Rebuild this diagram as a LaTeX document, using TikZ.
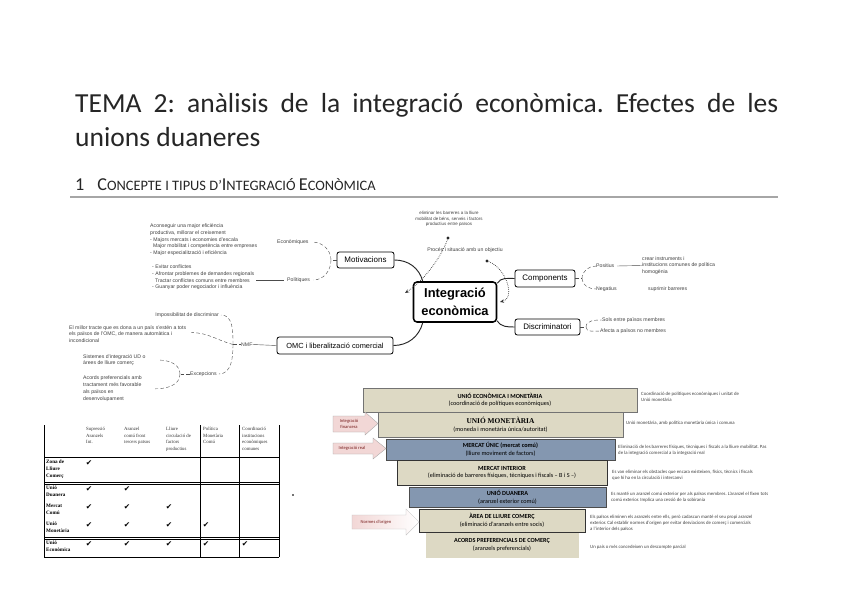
\documentclass[tikz,border=0pt]{standalone}
\usepackage{fontspec}
\setmainfont{Carlito}
\newfontfamily\mapfont{Liberation Sans}
\newfontfamily\tabfont{Liberation Serif}
\newfontfamily\symfont{DejaVu Sans}
\usetikzlibrary{arrows.meta,shadows,positioning,calc}
\frenchspacing
\definecolor{titleGray}{RGB}{38,38,38}
\definecolor{ruleGray}{RGB}{166,166,166}
\definecolor{paleBeige}{RGB}{221,217,196}
\definecolor{steelBlue}{RGB}{132,151,176}
\definecolor{pinkArrow}{RGB}{242,215,214}
\definecolor{darkRed}{RGB}{120,30,30}
\tikzset{
  topicbox/.style={
    rectangle, rounded corners=2pt, draw=black, line width=0.7pt,
    fill=white, inner sep=0pt, font=\mapfont\fontsize{6.8}{8}\selectfont
  },
  tinytext/.style={
    inner sep=0pt, align=left, text=black!75,
    font=\mapfont\fontsize{4.4}{5.8}\selectfont
  },
  tierbox/.style={
    rectangle, draw=black!55, line width=0.4pt, fill=paleBeige,
    inner sep=0pt, align=center, font=\fontsize{5.3}{6.6}\selectfont,
    drop shadow={shadow xshift=0.7pt,shadow yshift=-0.7pt,opacity=0.6}
  },
  sidenote/.style={
    inner sep=0pt, align=left, anchor=west, text=black!75,
    font=\fontsize{4.1}{5.3}\selectfont
  }
}

\begin{document}
\begin{tikzpicture}[x=0.3mm, y=0.3mm,
        mapline/.style={line width=0.8pt, draw=black!85},
        brch/.style={densely dashed, line width=0.35pt, draw=black!70},
        thinline/.style={line width=0.35pt, draw=black!70},
        rel/.style={densely dotted, line width=0.6pt, draw=black!80,
                    -{Stealth[length=3.5pt,width=3pt]}},
        reldot/.style={circle, fill=black!85, inner sep=0pt, minimum size=2.6pt},
        tick/.style={inner sep=0pt, font=\symfont\fontsize{6.5}{7}\selectfont},
        hdr/.style={anchor=north west, inner sep=0pt, align=left,
                    font=\tabfont\fontsize{4.1}{5.6}\selectfont, text=black!80},
        rowlbl/.style={anchor=north west, inner sep=0pt, align=left,
                       font=\tabfont\bfseries\fontsize{4.4}{5.9}\selectfont}]
  \path[use as bounding box, fill=white] (0,0) rectangle (848,-599);

  % heading
  \node[anchor=base west, inner sep=0pt, text width=210.9mm, align=justify,
        font=\fontsize{23.5}{29.3}\selectfont, text=titleGray] (title) at (75,-112.3)
        {\hyphenpenalty=10000 TEMA 2: anàlisis de la integració econòmica. Efectes de les\linebreak unions duaneres};
  \node[anchor=base west, inner sep=0pt, text=black!85,
        font=\fontsize{15.5}{17}\selectfont] (sect) at (75,-191)
        {1\hspace{11pt}C{\fontsize{12.3}{14}\selectfont ONCEPTE I TIPUS D’}I{\fontsize{12.3}{14}\selectfont NTEGRACIÓ }E{\fontsize{12.3}{14}\selectfont CONÒMICA}};
  \draw[ruleGray, line width=1.4pt] (70,-197) -- (778,-197);

  % mind map
  \node[topicbox, line width=1.3pt, rounded corners=3pt, align=center,
        minimum width=24.9mm, minimum height=12mm,
        font=\mapfont\bfseries\fontsize{11}{15}\selectfont] (ie) at (455,-302)
        {Integració\\econòmica};
  \node[topicbox, minimum width=17.1mm, minimum height=4.8mm] (mot) at (365.5,-260) {Motivacions};
  \node[topicbox, minimum width=18mm, minimum height=5.1mm] (comp) at (545,-278.5) {Components};
  \node[topicbox, minimum width=19.5mm, minimum height=4.8mm] (disc) at (547.5,-327) {Discriminatori};
  \node[topicbox, minimum width=34.8mm, minimum height=5.1mm,
        font=\mapfont\fontsize{6.3}{8}\selectfont] (omc) at (335,-345.5)
        {OMC i liberalització comercial};
  \draw[mapline] (mot.east) to[out=0,in=105] ([xshift=3mm]ie.north west);
  \draw[mapline] (omc.east) to[out=0,in=-105] ([xshift=3mm]ie.south west);
  \draw[mapline] ([yshift=-0.6mm]ie.north east) to[out=60,in=180] (comp.west);
  \draw[mapline] ([yshift=0.6mm]ie.south east) to[out=-60,in=180] (disc.west);

  \node[tinytext, align=center, font=\mapfont\fontsize{3.8}{4.4}\selectfont] (goal) at (449,-219)
        {eliminar les barreres a la lliure\\mobilitat de béns, serveis i factors\\productius entre països};
  \node[tinytext] (proc) at (465,-250) {Procés i situació amb un objectiu};
  \node[reldot] (r1s) at (448,-238) {};
  \coordinate (r1e) at (405,-293);
  \draw[rel] (r1s) .. controls (440,-260) and (422,-282) .. (r1e);
  \node[reldot] (r2s) at (487,-261) {};
  \coordinate (r2e) at (500,-302);
  \draw[rel] (r2s) .. controls (506,-268) and (516,-298) .. (r2e);

  % Motivacions
  \node[tinytext, anchor=west] (econ) at (277,-242) {Econòmiques};
  \node[tinytext, anchor=west] (pol) at (287,-280) {Polítiques};
  \coordinate (motj) at (331,-260);
  \draw[brch] (mot.west) -- (motj);
  \draw[brch] (motj) to[out=90,in=0] ([xshift=1mm]econ.east);
  \draw[brch] (motj) to[out=-90,in=0] ([xshift=1mm]pol.east);
  \node[tinytext, anchor=north west] (econtxt) at (150,-223.5)
        {Aconseguir una major eficiència\\productiva, millorar el creixement\\- Majors mercats i economies d’escala\\\ \ Major mobilitat i competència entre empreses\\- Major especialització i eficiència};
  \node[tinytext, anchor=north west] (poltxt) at (152,-264.5)
        {- Evitar conflictes\\- Afrontar problemes de demandes regionals\\\ \ Tractar conflictes comuns entre membres\\- Guanyar poder negociador i influència};
  \draw[thinline] ([xshift=0.6mm]poltxt.east |- pol.west) -- ([xshift=-0.8mm]pol.west);

  % OMC
  \node[tinytext, anchor=west] (nmf) at (241,-344.5) {NMF};
  \draw[thinline] (nmf.east) -- (omc.west);
  \coordinate (nmfj) at (233,-344.5);
  \node[tinytext, anchor=east] (imp) at (219,-315) {Impossibilitat de discriminar};
  \node[tinytext, anchor=north west] (nmftxt) at (69,-325)
        {El millor tracte que es dona a un país s’estén a tots\\els països de l’OMC, de manera automàtica i\\incondicional};
  \node[tinytext, anchor=west] (exc) at (190,-374) {Excepcions};
  \draw[brch] (nmfj) -- (nmf.west);
  \draw[brch] (nmfj) to[out=90,in=0] ([xshift=0.6mm]imp.east);
  \draw[brch] (nmfj) to[out=165,in=0] ([xshift=1.5mm,yshift=0.4mm]nmftxt.east);
  \draw[brch] (nmfj) to[out=-90,in=0] ([xshift=0.6mm]exc.east);
  \coordinate (excj) at (180,-374);
  \node[tinytext, anchor=north west] (sist) at (83,-354)
        {Sistemes d’integració UD o\\àrees de lliure comerç};
  \node[tinytext, anchor=north west] (acord) at (83,-376)
        {Acords preferencials amb\\tractament més favorable\\als països en\\desenvolupament};
  \draw[brch] (exc.west) -- (excj);
  \draw[brch] (excj) to[out=90,in=0] ([xshift=4mm]sist.east);
  \draw[brch] (excj) to[out=-90,in=0] ([xshift=4mm]acord.east);

  % Components / Discriminatori
  \coordinate (compj) at (582,-278.5);
  \node[tinytext, anchor=west] (pos) at (596,-266) {Positius};
  \node[tinytext, anchor=west] (neg) at (596,-289) {Negatius};
  \draw[brch] (comp.east) -- (compj);
  \draw[brch] (compj) to[out=90,in=180] (pos.west);
  \draw[brch] (compj) to[out=-90,in=180] (neg.west);
  \node[tinytext, anchor=west] (postxt) at (642,-265.5)
        {crear instruments i\\institucions comunes de política\\homogènia};
  \draw[thinline] ([xshift=0.8mm]pos.east) -- (postxt.west);
  \node[tinytext, anchor=west] (negtxt) at (648,-289) {suprimir barreres};
  \coordinate (discj) at (586,-327);
  \node[tinytext, anchor=west] (dis1) at (602,-320) {Sols entre països membres};
  \node[tinytext, anchor=west] (dis2) at (600,-331) {Afecta a països no membres};
  \draw[brch] (disc.east) -- (discj);
  \draw[brch] (discj) to[out=90,in=180] (dis1.west);
  \draw[brch] (discj) to[out=-90,in=180] (dis2.west);

  % table
  \draw[line width=0.5pt] (44,-425) -- (44,-557);
  \draw[line width=0.4pt] (200,-425) -- (200,-557);
  \draw[line width=0.4pt] (239,-425) -- (239,-557);
  \draw[line width=0.5pt] (279,-425) -- (279,-557);
  \draw[line width=0.4pt] (44,-457) -- (279,-457);
  \draw[line width=0.4pt] (44,-482) -- (279,-482);
  \draw[line width=0.4pt] (44,-484) -- (279,-484);
  \draw[line width=0.4pt] (44,-537) -- (279,-537);
  \draw[line width=0.4pt] (44,-539) -- (279,-539);
  \draw[line width=0.8pt] (44,-557) -- (279,-557);
  \node[hdr] (h1) at (86,-427) {Supressió\\Aranzels\\Int.};
  \node[hdr] (h2) at (124,-427) {Aranzel\\comú front\\tercers països};
  \node[hdr] (h3) at (166,-427) {Lliure\\circulació de\\factors\\productius};
  \node[hdr] (h4) at (203,-427) {Política\\Monetària\\Comú};
  \node[hdr] (h5) at (242,-427) {Coordinació\\institucions\\econòmiques\\comunes};
  \node[rowlbl] (zlc) at (46,-460) {Zona de\\Lliure\\Comerç};
  \node[rowlbl] (ud) at (46,-486) {Unió\\Duanera};
  \node[rowlbl] (mc) at (46,-504) {Mercat\\Comú};
  \node[rowlbl] (um) at (46,-522) {Unió\\Monetària};
  \node[rowlbl] (ue) at (46,-540.5) {Unió\\Econòmica};
  \node[tick] (t11) at (89,-463) {✔};
  \node[tick] (t21) at (89,-489) {✔}; \node[tick] (t22) at (127,-489) {✔};
  \node[tick] (t31) at (89,-507) {✔}; \node[tick] (t32) at (127,-507) {✔};
  \node[tick] (t33) at (169,-507) {✔};
  \node[tick] (t41) at (89,-525) {✔}; \node[tick] (t42) at (127,-525) {✔};
  \node[tick] (t43) at (169,-525) {✔}; \node[tick] (t44) at (206,-525) {✔};
  \node[tick] (t51) at (89,-544) {✔}; \node[tick] (t52) at (127,-544) {✔};
  \node[tick] (t53) at (169,-544) {✔}; \node[tick] (t54) at (206,-544) {✔};
  \node[tick] (t55) at (245,-544) {✔};
  \fill[black!55] (292,-494) rectangle (294,-496);

  % pyramid
  \node[tierbox, minimum width=82.2mm, minimum height=7.2mm] (uem) at (500,-400)
        {\bfseries UNIÓ ECONÒMICA I MONETÀRIA\\(coordinació de polítiques econòmiques)};
  \node[tierbox, minimum width=73.5mm, minimum height=7.5mm] (um2) at (500.5,-424.5)
        {{\tabfont\bfseries\fontsize{6.3}{7}\selectfont UNIÓ MONETÀRIA}\\(moneda i monetària única/autoritat)};
  \node[tierbox, fill=steelBlue, draw=black!70, minimum width=68.7mm, minimum height=6.3mm] (mu) at (500.5,-449.5)
        {\bfseries MERCAT ÚNIC (mercat comú)\\(lliure moviment de factors)};
  \node[tierbox, draw=black!80, line width=0.6pt, minimum width=63mm, minimum height=7.5mm] (mi) at (502,-472.5)
        {\bfseries MERCAT INTERIOR\\(eliminació de barreres físiques, tècniques i fiscals – B i S –)};
  \node[tierbox, fill=steelBlue, draw=black!70, minimum width=59.1mm, minimum height=6mm] (ud2) at (507.5,-497)
        {\bfseries UNIÓ DUANERA\\(aranzel exterior comú)};
  \node[tierbox, draw=black!80, line width=0.6pt, minimum width=49.8mm, minimum height=6.9mm] (alc) at (502,-520.5)
        {\bfseries ÀREA DE LLIURE COMERÇ\\(eliminació d’aranzels entre socis)};
  \node[tierbox, draw=paleBeige, minimum width=45.6mm, minimum height=7.2mm] (apc) at (502,-545)
        {\bfseries ACORDS PREFERENCIALS DE COMERÇ\\(aranzels preferencials)};

  \filldraw[fill=pinkArrow, draw=black!35, line width=0.3pt]
        (333,-416) -- (365,-416) -- (365,-412) -- (378,-423.5) -- (365,-435)
        -- (365,-432) -- (333,-432) -- cycle;
  \node[inner sep=0pt, align=center, text=darkRed, font=\fontsize{3.9}{4.6}\selectfont]
        (afin) at (349,-424) {Integració\\financera};
  \filldraw[fill=pinkArrow, draw=black!35, line width=0.3pt]
        (333,-443) -- (373,-443) -- (373,-438) -- (386,-448.5) -- (373,-459)
        -- (373,-454) -- (333,-454) -- cycle;
  \node[inner sep=0pt, text=darkRed, font=\fontsize{3.9}{4.6}\selectfont]
        (areal) at (352,-448.5) {Integració real};
  \shade[left color=pinkArrow, right color=white, draw=black!25, line width=0.3pt]
        (352,-515) -- (406,-515) -- (406,-509) -- (419,-522) -- (406,-535)
        -- (406,-529) -- (352,-529) -- cycle;
  \node[inner sep=0pt, text=darkRed, font=\fontsize{3.9}{4.6}\selectfont]
        (aorig) at (376,-522) {Normes d’origen};

  \node[sidenote] (n1) at (641,-397)
        {Coordinació de polítiques econòmiques i unitat de\\Unió monetària};
  \node[sidenote] (n2) at (626,-423) {Unió monetària, amb política monetària única i comuna};
  \node[sidenote] (n3) at (618,-450)
        {Eliminació de les barreres físiques, tècniques i fiscals a la lliure mobilitat. Pas\\de la integració comercial a la integració real};
  \node[sidenote] (n4) at (612,-475)
        {Es van eliminar els obstacles que encara existeixen, físics, tècnics i fiscals\\que hi ha en la circulació i intercanvi};
  \node[sidenote] (n5) at (611,-497)
        {Es manté un aranzel comú exterior per als països membres. L’aranzel el fixen tots\\comú exterior. Implica una cessió de la sobirania};
  \node[sidenote] (n6) at (590,-523)
        {Els països eliminen els aranzels entre ells, però cadascun manté el seu propi aranzel\\exterior. Cal establir normes d’origen per evitar desviacions de comerç i comercials\\a l’interior dels països};
  \node[sidenote] (n7) at (590,-547) {Un país o més concedeixen un descompte parcial};
\end{tikzpicture}
\end{document}
